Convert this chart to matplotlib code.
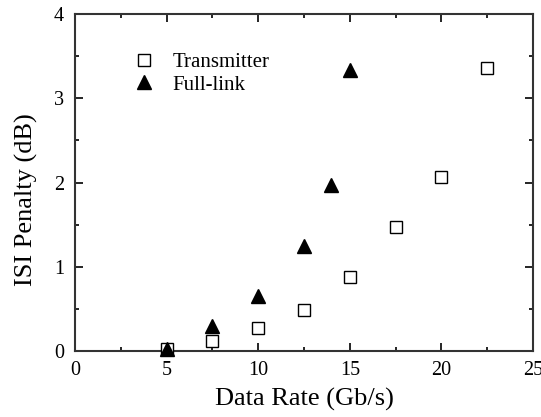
import matplotlib
matplotlib.use("Agg")
import matplotlib.pyplot as plt
from matplotlib.ticker import MultipleLocator

plt.rcParams['font.family'] = ['Liberation Serif', 'DejaVu Serif']

tx_rate = [5, 7.5, 10, 12.5, 15, 17.5, 20, 22.5]
tx_penalty = [0.02, 0.12, 0.27, 0.49, 0.88, 1.47, 2.07, 3.36]
fl_rate = [5, 7.5, 10, 12.5, 14, 15]
fl_penalty = [0.02, 0.30, 0.65, 1.25, 1.97, 3.34]

fig = plt.figure(figsize=(5.41, 4.17), dpi=100)
ax = fig.add_axes([75/541, 1-351/417, (533-75)/541, (351-14)/417])

ax.plot(tx_rate, tx_penalty, linestyle='none', marker='s', markersize=9,
        markerfacecolor='white', markeredgecolor='black', markeredgewidth=1.0,
        label='Transmitter', clip_on=False, zorder=3)
ax.plot(fl_rate, fl_penalty, linestyle='none', marker='^', markersize=10,
        markerfacecolor='black', markeredgecolor='black',
        label='Full-link', clip_on=False, zorder=3)

ax.set_xlim(0, 25)
ax.set_ylim(0, 4)
ax.xaxis.set_major_locator(MultipleLocator(5))
ax.xaxis.set_minor_locator(MultipleLocator(2.5))
ax.yaxis.set_major_locator(MultipleLocator(1))
ax.yaxis.set_minor_locator(MultipleLocator(0.5))
ax.tick_params(which='both', direction='in', top=True, right=True, labelsize=14.5, width=1.2)
ax.tick_params(axis='x', which='major', pad=7)
ax.tick_params(axis='y', which='major', pad=8)
ax.tick_params(which='major', length=6)
ax.tick_params(which='minor', length=3)
for s in ax.spines.values():
    s.set_linewidth(1.5)
    s.set_color('#333333')

ax.set_xlabel('Data Rate (Gb/s)', fontsize=19)
ax.xaxis.set_label_coords((304 - 75) / 458, -(388 - 351) / 337)
ax.set_ylabel('ISI Penalty (dB)', fontsize=19)
ax.yaxis.set_label_coords(-(75 - 38) / 458, (351 - 200) / 337)

ax.legend(loc='upper left', bbox_to_anchor=(0.069, 0.934), frameon=False, fontsize=15,
          handletextpad=0.35, borderpad=0.3, labelspacing=0.12)

fig.savefig('out.png', dpi=100)
